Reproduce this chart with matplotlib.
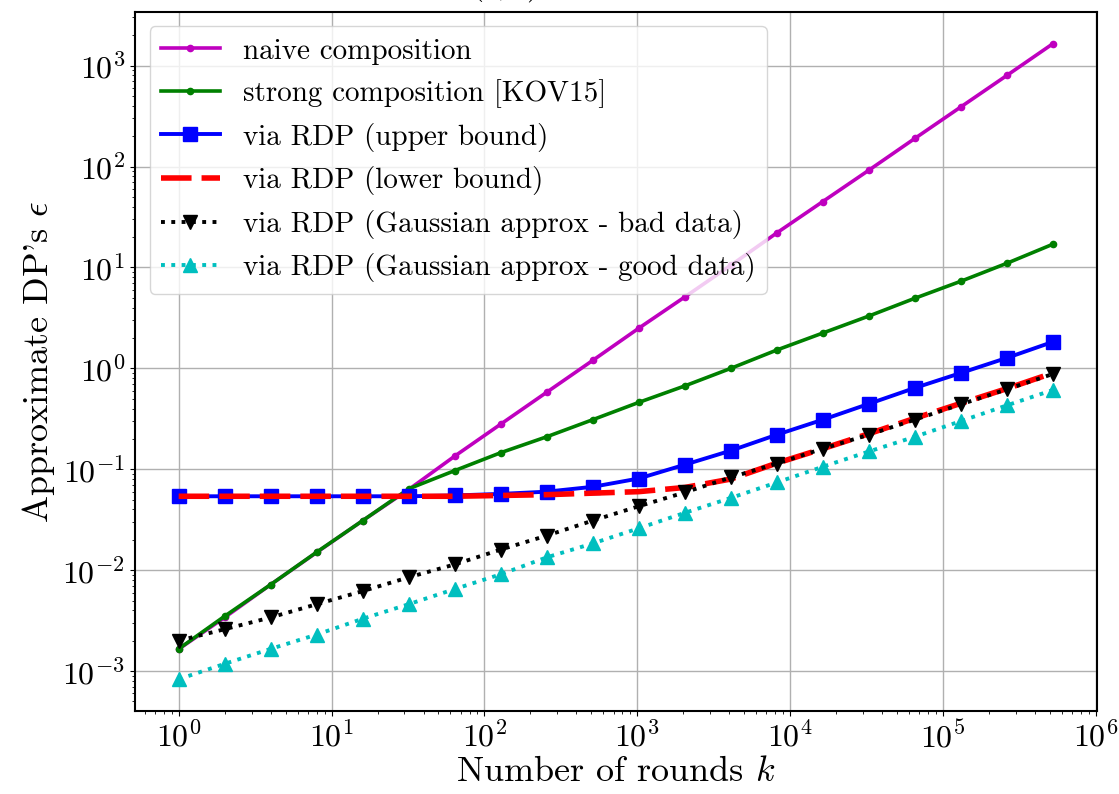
import numpy as np
import matplotlib
matplotlib.use('Agg')
import matplotlib.pyplot as plt

plt.rcParams['font.family'] = 'serif'
plt.rcParams['font.serif'] = ['cmr10']
plt.rcParams['mathtext.fontset'] = 'cm'
plt.rcParams['axes.formatter.use_mathtext'] = True
plt.rcParams['axes.unicode_minus'] = False

# number of rounds k = 2^0 ... 2^19
ks = [2 ** i for i in range(20)]

naive = [0.00165, 0.0034, 0.0072, 0.015, 0.031, 0.063, 0.135, 0.28, 0.58, 1.2,
         2.5, 5.1, 10.5, 22, 45, 92, 190, 390, 800, 1650]
strong = [0.00166, 0.0035, 0.0072, 0.0151, 0.031, 0.064, 0.097, 0.146, 0.21, 0.31,
          0.46, 0.67, 1.0, 1.52, 2.24, 3.3, 4.95, 7.3, 11.0, 17.0]
rdp_upper = [0.054, 0.054, 0.054, 0.054, 0.054, 0.054, 0.055, 0.057, 0.060, 0.067,
             0.081, 0.111, 0.153, 0.22, 0.31, 0.445, 0.64, 0.90, 1.27, 1.83]
rdp_lower = [0.054, 0.054, 0.054, 0.054, 0.054, 0.054, 0.054, 0.055, 0.056, 0.058,
             0.060, 0.066, 0.080, 0.115, 0.16, 0.225, 0.32, 0.45, 0.63, 0.90]
gauss_bad = [0.0020, 0.0026, 0.0034, 0.0046, 0.0062, 0.0085, 0.0114, 0.016, 0.022, 0.031,
             0.043, 0.059, 0.083, 0.114, 0.16, 0.22, 0.31, 0.44, 0.62, 0.88]
gauss_good = [0.00083, 0.00118, 0.00166, 0.0023, 0.0033, 0.0046, 0.0065, 0.0091, 0.0134, 0.0184,
              0.026, 0.037, 0.052, 0.074, 0.106, 0.15, 0.21, 0.30, 0.43, 0.61]

fig = plt.figure(figsize=(11.19, 7.94), dpi=100)
ax = fig.add_axes([0.1206, 0.1045, 0.8594, 0.8805])

ax.plot(ks, naive, 'm.-', lw=2.6, ms=9, label='naive composition')
ax.plot(ks, strong, 'g.-', lw=2.6, ms=9, label='strong composition [KOV15]')
ax.plot(ks, rdp_upper, 'bs-', lw=2.8, ms=10, label='via RDP (upper bound)')
ax.plot(ks, rdp_lower, 'r--', lw=4, dashes=(5.5, 1.8), label='via RDP (lower bound)')
ax.plot(ks, gauss_bad, 'kv:', lw=2.8, ms=10, label='via RDP (Gaussian approx - bad data)')
ax.plot(ks, gauss_good, 'c^:', lw=2.8, ms=10, label='via RDP (Gaussian approx - good data)')

ax.set_xscale('log')
ax.set_yscale('log')
ax.grid(True, which='major', color='#b0b0b0', lw=1)
ax.tick_params(labelsize=23)
for s in ax.spines.values():
    s.set_linewidth(1.5)

ax.set_xlabel('Number of rounds $k$', fontsize=26, labelpad=2)
ax.set_ylabel("Approximate DP's $\\epsilon$", fontsize=26)
ax.set_title('Bound on $(\\epsilon,\\delta)$ under $k$-fold composition', fontsize=24, pad=13)
ax.legend(loc='upper left', fontsize=21)

plt.savefig('out.png', dpi=100)
